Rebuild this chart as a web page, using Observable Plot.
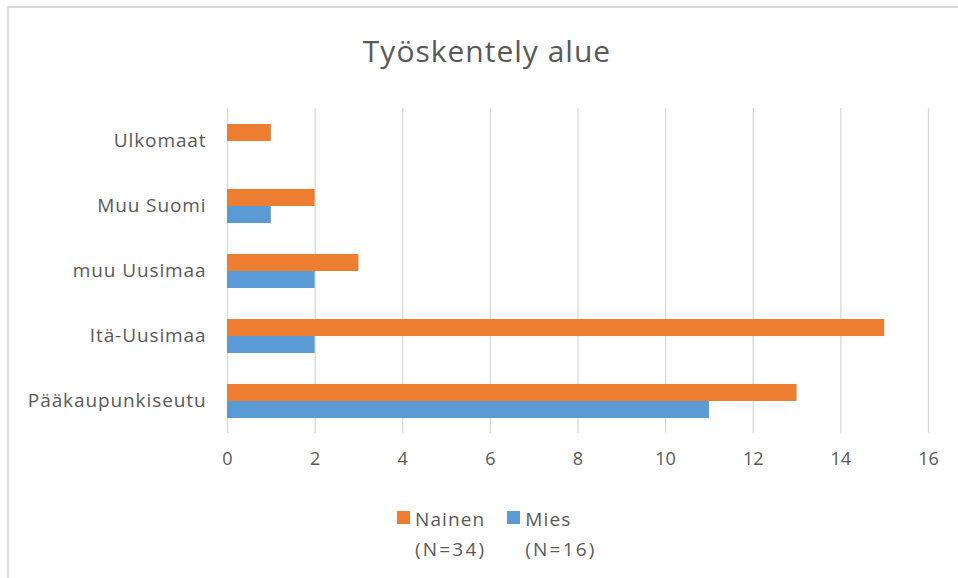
<!DOCTYPE html>
<html>
<head>
<meta charset="utf-8">
<script src="https://cdn.jsdelivr.net/npm/d3@7"></script>
<script src="https://cdn.jsdelivr.net/npm/@observablehq/plot@0.6"></script>
<style>
  html, body { margin: 0; padding: 0; background: #fff; }
  #wrap { position: relative; width: 958px; height: 578px; overflow: hidden; font-family: "Open Sans", Lato, sans-serif; color: #595959; }
  #frame { position: absolute; left: 7px; top: 6px; width: 1000px; height: 1000px; border-left: 2px solid #d9d9d9; border-top: 2px solid #d9d9d9; box-sizing: border-box; }
  #title { position: absolute; left: 8px; width: 958px; top: 32px; text-align: center; font-size: 30px; line-height: 38px; letter-spacing: 1px; }
  #chart { position: absolute; left: 0; top: 0; }
  #legend { position: absolute; left: 397px; top: 504px; display: flex; gap: 21px; font-size: 19px; line-height: 30px; letter-spacing: 1.1px; }
  .item { display: flex; align-items: flex-start; }
  .sw { width: 13px; height: 13px; margin-top: 7px; margin-right: 5px; }
  .txt { display: flex; flex-direction: column; }
  .txt span:nth-child(2) { letter-spacing: 2.2px; }
</style>
</head>
<body>
<div id="wrap">
  <div id="frame"></div>
  <div id="title"></div>
  <div id="chart"></div>
  <div id="legend"></div>
</div>
<script>
const titleText = "Työskentely alue";
const categories = ["Ulkomaat", "Muu Suomi", "muu Uusimaa", "Itä-Uusimaa", "Pääkaupunkiseutu"];
const series = ["Nainen", "Mies"];
const nainen = [1, 2, 3, 15, 13];
const mies = [0, 1, 2, 2, 11];
const counts = ["(N=34)", "(N=16)"];
const xTicks = [0, 2, 4, 6, 8, 10, 12, 14, 16];
const colors = ["#ED7D31", "#5B9BD5"];

const values = [nainen, mies];
const data = categories.flatMap((c, i) => series.map((s, j) => ({cat: c, s, v: values[j][i]})));

document.getElementById("title").textContent = titleText;

const chart = Plot.plot({
  width: 958,
  height: 490,
  marginLeft: 227,
  marginRight: 30,
  marginTop: 107,
  marginBottom: 56,
  style: {fontFamily: "'Open Sans', Lato, sans-serif", fontSize: "19px", color: "#595959", background: "transparent"},
  facet: {data, y: "cat"},
  fy: {domain: categories, padding: 0, label: null, axis: "left", tickSize: 0, tickPadding: 21},
  y: {domain: series, paddingInner: 0, paddingOuter: 0.886, axis: null},
  x: {domain: [0, 16], ticks: xTicks, tickSize: 0, tickPadding: 19, label: null, line: false},
  color: {domain: series, range: colors},
  marks: [
    Plot.ruleX(xTicks, {stroke: "#d9d9d9", strokeWidth: 1.3}),
    Plot.barX(data, {x: "v", y: "s", fill: "s"})
  ]
});
chart.querySelectorAll("text").forEach(t => t.setAttribute("fill", "#595959"));
chart.querySelectorAll('[aria-label^="fy-axis"] text').forEach(t => t.style.letterSpacing = "0.9px");
chart.querySelectorAll('[aria-label^="x-axis"] text').forEach(t => t.style.fontSize = "18px");
document.getElementById("chart").appendChild(chart);

const legend = document.getElementById("legend");
series.forEach((s, i) => {
  const item = document.createElement("div");
  item.className = "item";
  const sw = document.createElement("div");
  sw.className = "sw";
  sw.style.background = colors[i];
  const txt = document.createElement("div");
  txt.className = "txt";
  const a = document.createElement("span"); a.textContent = s;
  const b = document.createElement("span"); b.textContent = counts[i];
  txt.appendChild(a); txt.appendChild(b);
  item.appendChild(sw); item.appendChild(txt);
  legend.appendChild(item);
});
</script>
</body>
</html>
